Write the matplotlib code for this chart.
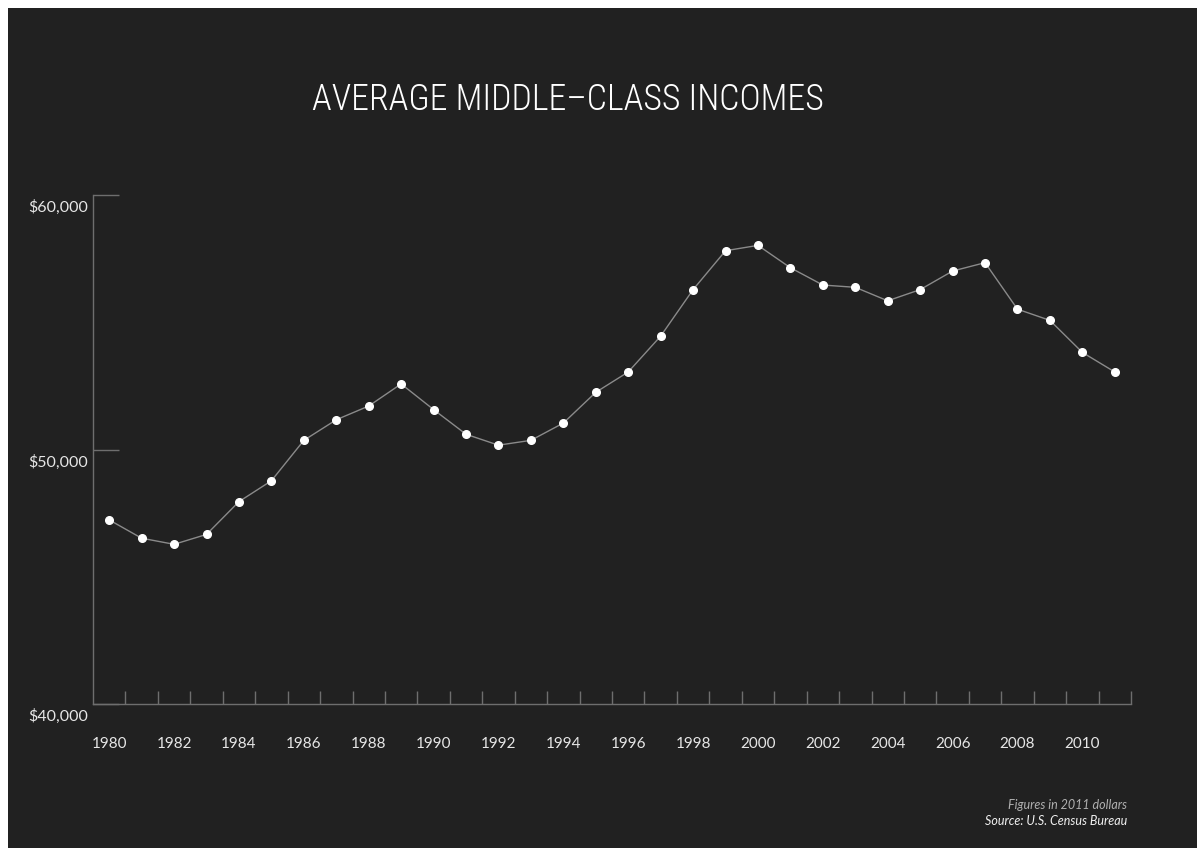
import numpy as np
import matplotlib.pyplot as plt
from matplotlib.patches import Rectangle
from matplotlib.transforms import ScaledTranslation

years = list(range(1980, 2012))
income = [47230, 46510, 46270, 46660, 47950, 48770, 50360, 51170, 51710, 52580,
          51570, 50600, 50170, 50360, 51040, 52250, 53050, 54460, 56290, 57820,
          58030, 57150, 56470, 56380, 55850, 56290, 57020, 57350, 55520, 55080,
          53820, 53050]
year_labels = list(range(1980, 2011, 2))
y_ticks = [40000, 50000, 60000]

BG = "#212121"
AXIS = "#6e6e6e"
TEXT = "#e6e6e6"

fig = plt.figure(figsize=(11.97, 8.48), dpi=100)
fig.patch.set_facecolor("white")
fig.add_artist(Rectangle((8 / 1197, 0), 1, 840 / 848, transform=fig.transFigure,
                         facecolor=BG, edgecolor="none", zorder=0))

ax = fig.add_axes([93 / 1197, 144.3 / 848, 1038 / 1197, 508.4 / 848])
ax.set_facecolor("none")

ax.plot(years, income, color="#8a8a8a", lw=1.0, zorder=2, clip_on=False)
ax.plot(years, income, "o", color="white", ms=5.5, mec="white", zorder=3, clip_on=False)

ax.set_xlim(1979.5, 2011.5)
ax.set_ylim(40000, 60000)

for s in ["top", "right"]:
    ax.spines[s].set_visible(False)
for s in ["left", "bottom"]:
    ax.spines[s].set_color(AXIS)
    ax.spines[s].set_linewidth(1.0)

# year labels centred on the data, small upward ticks between years
ax.set_xticks(year_labels)
ax.set_xticklabels([str(y) for y in year_labels])
ax.set_xticks(np.arange(1980.5, 2012, 1), minor=True)
ax.tick_params(axis="x", which="major", length=0, pad=24, labelsize=11,
               labelcolor=TEXT)
ax.tick_params(axis="x", which="minor", direction="in", length=9.5, width=1.0,
               color=AXIS)
for lab in ax.get_xticklabels():
    lab.set_family(["Lato", "DejaVu Sans"])

ax.set_yticks(y_ticks)
ax.set_yticklabels(["${:,}".format(v) for v in y_ticks])
ax.tick_params(axis="y", direction="in", length=18.7, width=1.0, color=AXIS,
               pad=3.5, labelsize=11.5, labelcolor=TEXT)
shift = ScaledTranslation(0, -0.11, fig.dpi_scale_trans)
for lab in ax.get_yticklabels():
    lab.set_family(["Lato", "DejaVu Sans"])
    lab.set_transform(lab.get_transform() + shift)

fig.text(568 / 1197, 1 - 100 / 848, "AVERAGE MIDDLE\u2013CLASS INCOMES",
         ha="center", va="center", color="white", fontsize=25.8, weight="light",
         family=["Roboto Condensed", "Roboto", "DejaVu Sans"])

fig.text(1127 / 1197, 1 - 805 / 848, "Figures in 2011 dollars", ha="right",
         va="center", color="#b0b0b0", fontsize=9, style="italic",
         family=["Lato", "DejaVu Sans"])
fig.text(1127 / 1197, 1 - 821 / 848, "Source: U.S. Census Bureau", ha="right",
         va="center", color="#f0f0f0", fontsize=9, style="italic",
         family=["Lato", "DejaVu Sans"])

fig.savefig("out.png", dpi=100, facecolor=fig.get_facecolor())
